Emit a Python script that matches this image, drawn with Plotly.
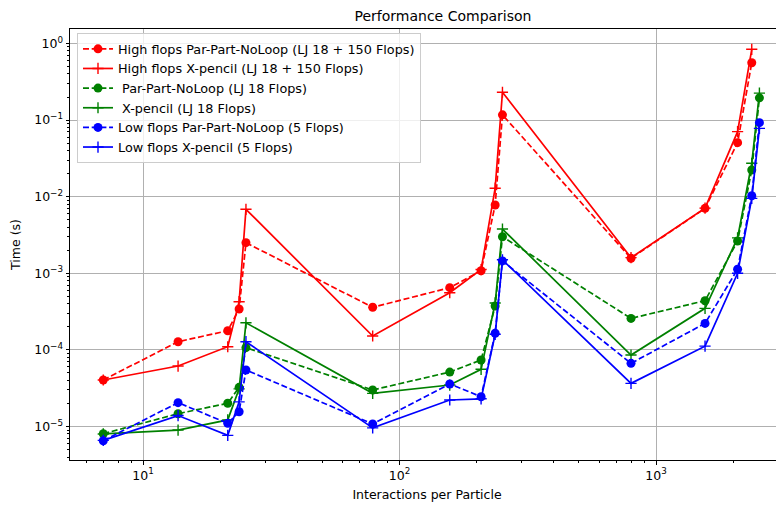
import plotly.graph_objects as go

# Interactions per particle (x)
x_vals = [7, 13.7, 21.4, 23.7, 25.2, 78.6, 157, 208, 236, 252, 799, 1553, 2080, 2362, 2530]

# Times (s)
high_ppn = [4.05e-5, 1.28e-4, 1.78e-4, 3.42e-4, 2.51e-3, 3.6e-4, 6.49e-4, 1.08e-3, 7.8e-3, 0.117,
            1.57e-3, 7.05e-3, 0.0507, 0.561]
high_xp = [4.05e-5, 6.16e-5, 1.10e-4, 4.26e-4, 6.85e-3, 1.52e-4, 5.58e-4, 1.12e-3, 1.29e-2, 0.231,
           1.6e-3, 7.1e-3, 0.0706, 0.84]
lj_ppn = [8.05e-6, 1.47e-5, 2.01e-5, 3.25e-5, 1.07e-4, 3.0e-5, 5.14e-5, 7.38e-5, 3.74e-4, 3.0e-3,
          2.58e-4, 4.39e-4, 2.64e-3, 0.0223, 0.195]
lj_xp = [8.0e-6, 9.0e-6, 1.22e-5, 3.1e-5, 2.26e-4, 2.71e-5, 3.48e-5, 5.58e-5, 4.1e-4, 3.78e-3,
         8.57e-5, 3.49e-4, 2.9e-3, 0.0273, 0.225]
low_ppn = [6.53e-6, 2.05e-5, 1.10e-5, 1.56e-5, 5.47e-5, 1.08e-5, 3.59e-5, 2.45e-5, 1.65e-4, 1.45e-3,
           6.68e-5, 2.22e-4, 1.13e-3, 0.0103, 0.0925]
low_xp = [6.6e-6, 1.39e-5, 7.67e-6, 2.1e-5, 1.28e-4, 9.6e-6, 2.22e-5, 2.3e-5, 1.6e-4, 1.5e-3,
          3.66e-5, 1.12e-4, 1.0e-3, 9.5e-3, 0.078]

labels = [
    "High flops Par-Part-NoLoop (LJ 18 + 150 Flops)",
    "High flops X-pencil (LJ 18 + 150 Flops)",
    "\u00a0Par-Part-NoLoop (LJ 18 Flops)",
    "\u00a0X-pencil (LJ 18 Flops)",
    "Low flops Par-Part-NoLoop (5 Flops)",
    "Low flops X-pencil (5 Flops)",
]

x_tickvals = [10, 100, 1000]
x_ticktext = ["10<sup>1</sup>", "10<sup>2</sup>", "10<sup>3</sup>"]
y_tickvals = [1, 0.1, 0.01, 1e-3, 1e-4, 1e-5]
y_ticktext = ["10<sup>0</sup>", "10<sup>\u22121</sup>", "10<sup>\u22122</sup>",
              "10<sup>\u22123</sup>", "10<sup>\u22124</sup>", "10<sup>\u22125</sup>"]

series = [
    (high_ppn, "#ff0000", "dash"),
    (high_xp, "#ff0000", "solid"),
    (lj_ppn, "#008000", "dash"),
    (lj_xp, "#008000", "solid"),
    (low_ppn, "#0000ff", "dash"),
    (low_xp, "#0000ff", "solid"),
]

fig = go.Figure()
for (ys, color, dash), name in zip(series, labels):
    if dash == "dash":
        marker = dict(symbol="circle", size=9, color=color)
        ldash = "6px,2.7px"
    else:
        marker = dict(symbol="cross-thin", size=8, color=color,
                      line=dict(color=color, width=1.4))
        ldash = "solid"
    fig.add_trace(go.Scatter(
        x=x_vals[:len(ys)], y=ys, mode="lines+markers", name=name,
        line=dict(color=color, width=1.7, dash=ldash), marker=marker,
    ))

minor_x = [m * 10 ** k for k in range(0, 4) for m in range(2, 10)]
minor_y = [m * 10 ** k for k in range(-6, 1) for m in range(2, 10)]

axis_common = dict(
    type="log", showline=True, linecolor="black", linewidth=1,
    ticks="outside", ticklen=3.5, tickcolor="black", tickwidth=0.8,
    showgrid=True, gridcolor="#b0b0b0", gridwidth=0.8,
    tickfont=dict(size=12.5, color="black"),
    title_font=dict(size=12.5, color="black"),
    zeroline=False, automargin=False,
)

fig.update_xaxes(
    **axis_common, range=[0.7154, 3.499], mirror=True,
    tickmode="array", tickvals=x_tickvals, ticktext=x_ticktext,
    minor=dict(tickmode="array", tickvals=minor_x, ticks="outside", ticklen=2,
               tickcolor="black", tickwidth=0.6, showgrid=False),
    title_text="Interactions per Particle", title_standoff=8,
)
fig.update_yaxes(
    **axis_common, range=[-5.437, 0.189], mirror=False,
    tickmode="array", tickvals=y_tickvals, ticktext=y_ticktext,
    minor=dict(tickmode="array", tickvals=minor_y, ticks="outside", ticklen=2,
               tickcolor="black", tickwidth=0.6, showgrid=False),
    title_text="Time (s)", title_standoff=12,
)

# page body has an 8px margin: figure is 776x498 placed at (8, 8)
W, H = 776, 498
fig.update_layout(
    width=W, height=H,
    margin=dict(l=62, r=0, t=21, b=46),
    paper_bgcolor="white", plot_bgcolor="white",
    font=dict(family="DejaVu Sans", size=12.5, color="black"),
    title=dict(text="Performance Comparison", x=435 / W, xanchor="center",
               y=1 - 8 / H, yanchor="middle", font=dict(size=14, color="black")),
    legend=dict(x=0.0098, y=0.9907, xanchor="left", yanchor="top",
                bgcolor="rgba(255,255,255,0.8)", bordercolor="#cccccc", borderwidth=1,
                font=dict(size=12.8, color="black"), tracegroupgap=0),
    showlegend=True,
)

fig.write_html("out.html")
